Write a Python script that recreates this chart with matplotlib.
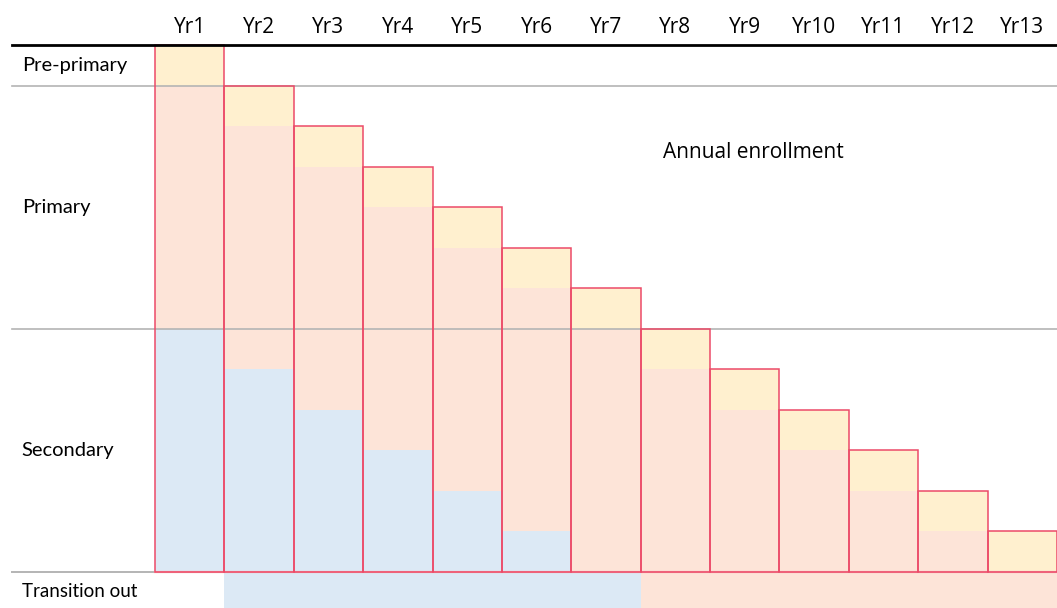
import numpy as np
import matplotlib
matplotlib.use("Agg")
import matplotlib.pyplot as plt

# Data: enrollment blocks per school year (in year-steps of height)
years = ["Yr1", "Yr2", "Yr3", "Yr4", "Yr5", "Yr6", "Yr7",
         "Yr8", "Yr9", "Yr10", "Yr11", "Yr12", "Yr13"]
new_entry = [1, 1, 1, 1, 1, 1, 1, 1, 1, 1, 1, 1, 1]          # yellow top block
primary_part = [6, 6, 6, 6, 6, 6, 6, 5, 4, 3, 2, 1, 0]       # salmon block
secondary_part = [6, 5, 4, 3, 2, 1, 0, 0, 0, 0, 0, 0, 0]     # blue block
transition_out = [None, "secondary", "secondary", "secondary", "secondary",
                  "secondary", "secondary", "primary", "primary", "primary",
                  "primary", "primary", "primary"]
row_labels = ["Pre-primary", "Primary", "Secondary"]
row_bounds = [(12, 13), (6, 12), (0, 6)]

c_yellow = "#fff0cf"
c_salmon = "#fde4d8"
c_blue = "#dce9f5"
c_edge = "#ec4a68"
c_grid = "#b4b4b4"

fig = plt.figure(figsize=(10.57, 6.08), dpi=100)
ax = fig.add_axes([0, 0, 1, 1])
ax.set_xlim(-155 / 69.4, 13.0)
ax.set_ylim(-36 / 40.54, 572 / 40.54)
ax.axis("off")

x = np.arange(len(years))
sec = np.array(secondary_part)
pri = np.array(primary_part)
new = np.array(new_entry)

# transition out band
for i, t in enumerate(transition_out):
    if t is None:
        continue
    ax.bar(x[i], -1.0, width=1.0, align="edge", bottom=0,
           color=c_blue if t == "secondary" else c_salmon, lw=0, zorder=1)

# stacked fills
ax.bar(x, sec, width=1.0, align="edge", color=c_blue, lw=0, zorder=2)
ax.bar(x, pri, width=1.0, align="edge", bottom=sec, color=c_salmon, lw=0, zorder=2)
ax.bar(x, new, width=1.0, align="edge", bottom=sec + pri, color=c_yellow, lw=0, zorder=2)

# row lines
x0 = -143 / 69.4
for lo, hi in row_bounds[1:]:
    ax.plot([x0, 13.0], [hi, hi], color=c_grid, lw=1.2, zorder=3)
ax.plot([x0, 0], [0, 0], color=c_grid, lw=1.4, zorder=3)
ax.plot([0, 13.0], [0, 0], color="#f5b3b6", lw=1.6, zorder=3)
ax.plot([x0, 13.0], [13, 13], color="black", lw=2.0, zorder=5)

# bar outlines
ax.bar(x, sec + pri + new, width=1.0, align="edge", fill=False,
       edgecolor=c_edge, lw=1.1, zorder=4)

# labels
for i, yr in enumerate(years):
    ax.text(x[i] + 0.5, 13.42, yr, ha="center", va="center",
            fontsize=15, family="Open Sans")
for lab, (lo, hi) in zip(row_labels, row_bounds):
    ax.text(x0 + 0.14, (lo + hi) / 2, lab, ha="left", va="center",
            fontsize=14.5, family="Lato")
ax.text(x0 + 0.14, -0.48, "Transition out", ha="left", va="center",
        fontsize=13.5, family="Lato")
ax.text(8.62, 10.34, "Annual enrollment", ha="center", va="center",
        fontsize=15, family="Open Sans")

plt.savefig("out.png", dpi=100)
